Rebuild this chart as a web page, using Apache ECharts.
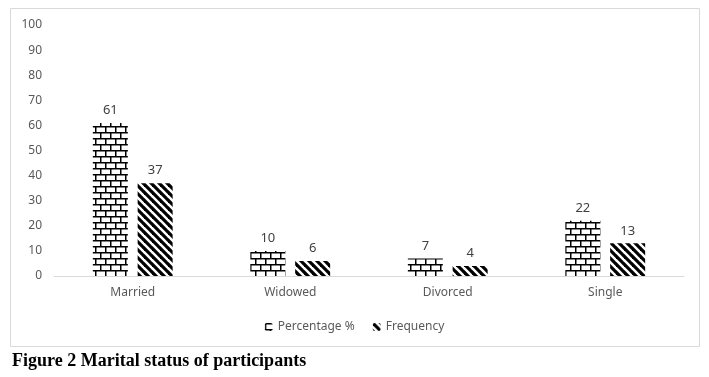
<!DOCTYPE html>
<html>
<head>
<meta charset="utf-8">
<script src="https://cdn.jsdelivr.net/npm/echarts@6/dist/echarts.min.js"></script>
<style>
html, body { margin: 0; padding: 0; background: #fff; }
#main { width: 709px; height: 377px; }
</style>
</head>
<body>
<div id="main"></div>
<script>
// marital status data
var categories = ['Married', 'Widowed', 'Divorced', 'Single'];
var percentData = [61, 10, 7, 22];
var freqData = [37, 6, 4, 13];
var yTicks = [0, 100, 10];

// brick pattern
function brickPattern() {
	var c = document.createElement('canvas');
	c.width = 10; c.height = 12;
	var ctx = c.getContext('2d');
	ctx.fillStyle = '#fff';
	ctx.fillRect(0, 0, 10, 12);
	ctx.fillStyle = '#000';
	ctx.fillRect(0, 0, 10, 1.5);
	ctx.fillRect(0, 6, 10, 1.5);
	ctx.fillRect(0, 0, 1.5, 6);
	ctx.fillRect(5, 6, 1.5, 6);
	return c;
}
// wide downward diagonal
function stripePattern() {
	var s = 8;
	var c = document.createElement('canvas');
	c.width = s; c.height = s;
	var ctx = c.getContext('2d');
	ctx.fillStyle = '#fff';
	ctx.fillRect(0, 0, s, s);
	ctx.strokeStyle = '#000';
	ctx.lineWidth = 3.2;
	for (var k = -1; k <= 1; k++) {
		ctx.beginPath();
		ctx.moveTo(k * s - 1, -1);
		ctx.lineTo(k * s + s + 1, s + 1);
		ctx.stroke();
	}
	return c;
}

var brick = { image: brickPattern(), repeat: 'repeat' };
var stripe = { image: stripePattern(), repeat: 'repeat' };

var myChart = echarts.init(document.getElementById('main'));
var labelStyle = {
	show: true,
	position: 'top',
	distance: 6,
	color: '#404040',
	fontSize: 13,
	fontFamily: 'Noto Sans'
};
var option = {
	animation: false,
	grid: { left: 54, right: 25, top: 25, bottom: 101 },
	legend: {
		data: ['Percentage %', 'Frequency'],
		top: 316,
		left: 'center',
		itemWidth: 8,
		itemHeight: 8,
		itemGap: 18,
		textStyle: { color: '#595959', fontSize: 12, fontFamily: 'Noto Sans' }
	},
	xAxis: {
		type: 'category',
		data: categories,
		axisLine: { lineStyle: { color: '#d9d9d9' } },
		axisTick: { show: false },
		axisLabel: { color: '#595959', fontSize: 12, fontFamily: 'Noto Sans', margin: 11 }
	},
	yAxis: {
		type: 'value',
		min: yTicks[0],
		max: yTicks[1],
		interval: yTicks[2],
		splitLine: { show: false },
		axisLine: { show: false },
		axisTick: { show: false },
		axisLabel: { color: '#595959', fontSize: 12, fontFamily: 'Noto Sans', margin: 12 }
	},
	series: [{
		name: 'Percentage %',
		type: 'bar',
		barWidth: 35,
		barGap: '28%',
		itemStyle: { color: brick },
		label: labelStyle,
		data: percentData
	}, {
		name: 'Frequency',
		type: 'bar',
		barWidth: 35,
		itemStyle: { color: stripe },
		label: labelStyle,
		data: freqData
	}],
	graphic: [{
		type: 'rect',
		shape: { x: 10.5, y: 8.5, width: 689, height: 338 },
		style: { fill: 'none', stroke: '#d9d9d9', lineWidth: 1 },
		silent: true
	}, {
		type: 'text',
		left: 12,
		top: 352,
		style: {
			text: 'Figure 2 Marital status of participants',
			fill: '#000',
			font: 'bold 18px "Liberation Serif", "DejaVu Serif", serif'
		}
	}]
};
myChart.setOption(option);
</script>
</body>
</html>
